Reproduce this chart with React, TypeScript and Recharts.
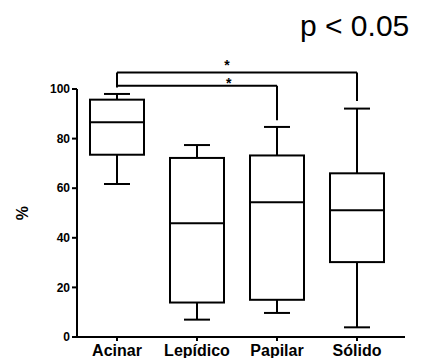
import React from 'react';
import { ComposedChart, Bar, XAxis, YAxis, ReferenceLine, Label } from 'recharts';

const categories = ['Acinar', 'Lepídico', 'Papilar', 'Sólido'];
const minValues = [61.7, 7.0, 9.7, 3.9];
const q1Values = [73.5, 13.9, 15.0, 30.2];
const medianValues = [86.6, 45.9, 54.3, 51.1];
const q3Values = [95.7, 72.2, 73.2, 66.0];
const maxValues = [98.0, 77.4, 84.7, 92.1];
const yTicks = [0, 20, 40, 60, 80, 100];

// significance brackets
const outerBracket = { from: 'Acinar', to: 'Sólido', level: 106.7, rightEnd: 95.2, leftEnd: 100.6, starFrac: 0.458, starLift: 2 };
const innerBracket = { from: 'Acinar', to: 'Papilar', level: 101.3, rightEnd: 87.4, starFrac: 0.699, starLift: -2.5 };

const data = categories.map((name, i) => ({
  name,
  min: minValues[i],
  q1: q1Values[i],
  median: medianValues[i],
  q3: q3Values[i],
  max: maxValues[i],
  range: [minValues[i], maxValues[i]],
}));

const FONT = '"Liberation Sans", Arial, Helvetica, sans-serif';

const BoxShape = (props: any) => {
  const { x, y, width, height, payload } = props;
  if (!payload) return null;
  const top = Math.min(y, y + height);
  const h = Math.abs(height);
  const ppu = h / (payload.max - payload.min || 1);
  const py = (v: number) => top + (payload.max - v) * ppu;
  const cx = x + width / 2;
  const capHalf = 13;
  const sw = 2;
  return (
    <g stroke="#000" strokeWidth={sw} fill="none">
      <line x1={cx - capHalf} x2={cx + capHalf} y1={py(payload.max)} y2={py(payload.max)} />
      <line x1={cx} x2={cx} y1={py(payload.max)} y2={py(payload.q3)} />
      <rect x={x} y={py(payload.q3)} width={width} height={py(payload.q1) - py(payload.q3)} fill="#fff" />
      <line x1={x} x2={x + width} y1={py(payload.median)} y2={py(payload.median)} />
      <line x1={cx} x2={cx} y1={py(payload.q1)} y2={py(payload.min)} />
      <line x1={cx - capHalf} x2={cx + capHalf} y1={py(payload.min)} y2={py(payload.min)} />
    </g>
  );
};

const starLabel = (frac: number, lift: number) => (props: any) => {
  const vb = props.viewBox || {};
  const sx = vb.x + (vb.width || 0) * frac;
  const sy = vb.y;
  return (
    <text x={sx} y={sy - lift} textAnchor="middle" fontFamily={FONT} fontWeight="bold" fontSize={14} fill="#000">*</text>
  );
};

const yLabel = (props: any) => {
  const vb = props.viewBox || {};
  const cx = 22;
  const cy = vb.y + vb.height / 2;
  return (
    <text x={cx} y={cy} transform={`rotate(-90 ${cx} ${cy})`} textAnchor="middle" dominantBaseline="central" fontFamily={FONT} fontWeight="bold" fontSize={16} fill="#000">%</text>
  );
};

export default function App() {
  const lineProps = { stroke: '#000', strokeWidth: 2, ifOverflow: 'visible' as const };
  return (
    <div style={{ position: 'absolute', left: 0, top: 0, width: 422, height: 358, background: '#fff' }}>
      <div style={{ position: 'absolute', left: 300, top: 11, fontFamily: FONT, fontSize: 30, lineHeight: '30px', color: '#000', whiteSpace: 'nowrap' }}>
        p &lt; 0.05
      </div>
      <ComposedChart width={422} height={358} data={data} margin={{ top: 89, right: 17, bottom: 0, left: 37 }}>
        <XAxis
          dataKey="name"
          height={21}
          padding={{ left: 0, right: 8 }}
          tickSize={4}
          tickMargin={4}
          axisLine={{ stroke: '#000', strokeWidth: 2 }}
          tickLine={{ stroke: '#000', strokeWidth: 2 }}
          tick={{ fill: '#000', fontFamily: FONT, fontWeight: 'bold', fontSize: 16 }}
          interval={0}
        />
        <YAxis
          width={40}
          domain={[0, 100]}
          ticks={yTicks}
          allowDataOverflow
          tickSize={5}
          tickMargin={2}
          axisLine={{ stroke: '#000', strokeWidth: 2 }}
          tickLine={{ stroke: '#000', strokeWidth: 2 }}
          tick={{ fill: '#000', fontFamily: FONT, fontWeight: 'bold', fontSize: 12 }}
          label={{ content: yLabel }}
        />
        <Bar dataKey="range" barSize={54} shape={<BoxShape />} isAnimationActive={false} />
        <ReferenceLine {...lineProps} segment={[{ x: outerBracket.from, y: outerBracket.level }, { x: outerBracket.to, y: outerBracket.level }]}>
          <Label content={starLabel(outerBracket.starFrac, outerBracket.starLift)} />
        </ReferenceLine>
        <ReferenceLine {...lineProps} segment={[{ x: outerBracket.to, y: outerBracket.level }, { x: outerBracket.to, y: outerBracket.rightEnd }]} />
        <ReferenceLine {...lineProps} segment={[{ x: outerBracket.from, y: outerBracket.level }, { x: outerBracket.from, y: outerBracket.leftEnd }]} />
        <ReferenceLine {...lineProps} segment={[{ x: innerBracket.from, y: innerBracket.level }, { x: innerBracket.to, y: innerBracket.level }]}>
          <Label content={starLabel(innerBracket.starFrac, innerBracket.starLift)} />
        </ReferenceLine>
        <ReferenceLine {...lineProps} segment={[{ x: innerBracket.to, y: innerBracket.level }, { x: innerBracket.to, y: innerBracket.rightEnd }]} />
      </ComposedChart>
    </div>
  );
}
